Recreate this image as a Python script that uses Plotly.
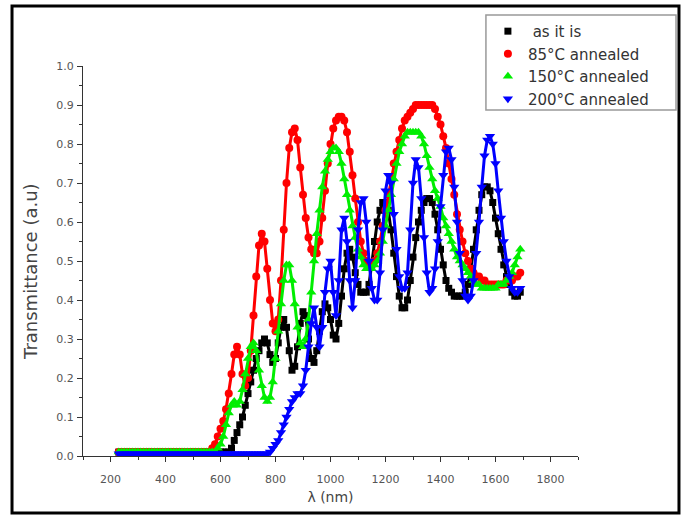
import plotly.graph_objects as go

# Wavelength grid (nm), 230 .. 1690 in 10 nm steps
wavelength_nm = list(range(230, 1700, 10))

series_names = ["\u00a0as it is", "85°C annealed", "150°C annealed", "200°C annealed"]

as_it_is = [
    0.01, 0.01, 0.01, 0.01, 0.01, 0.01, 0.01, 0.01, 0.01, 0.01,
    0.01, 0.01, 0.01, 0.01, 0.01, 0.01, 0.01, 0.01, 0.01, 0.01,
    0.01, 0.01, 0.01, 0.01, 0.01, 0.01, 0.01, 0.01, 0.01, 0.01,
    0.01, 0.01, 0.01, 0.01, 0.01, 0.01, 0.01, 0.01, 0.01, 0.01,
    0.01,
    0.02, 0.04, 0.06, 0.08, 0.10, 0.13, 0.16, 0.19, 0.22, 0.25,
    0.27, 0.29, 0.30, 0.29, 0.26, 0.24, 0.25, 0.29, 0.33, 0.35,
    0.33, 0.27, 0.22, 0.23, 0.28, 0.34, 0.37, 0.36, 0.30, 0.25,
    0.24, 0.27, 0.32, 0.37, 0.39, 0.38, 0.35, 0.31, 0.30, 0.34,
    0.41, 0.48, 0.52, 0.53, 0.51, 0.47, 0.44, 0.42, 0.42, 0.42,
    0.44, 0.49, 0.55, 0.60, 0.63, 0.65, 0.65, 0.63, 0.58, 0.52,
    0.46, 0.41, 0.38, 0.38, 0.40, 0.45, 0.51, 0.56, 0.60, 0.63,
    0.65, 0.66, 0.66, 0.65, 0.62, 0.58, 0.53, 0.49, 0.45, 0.43,
    0.42, 0.41, 0.41, 0.41, 0.41, 0.42, 0.44, 0.48, 0.53, 0.58,
    0.63, 0.67, 0.69, 0.69, 0.68, 0.65, 0.61, 0.57, 0.53, 0.49,
    0.46, 0.44, 0.42, 0.41, 0.41, 0.42,
]

annealed_85 = [
    0.01, 0.01, 0.01, 0.01, 0.01, 0.01, 0.01, 0.01, 0.01, 0.01,
    0.01, 0.01, 0.01, 0.01, 0.01, 0.01, 0.01, 0.01, 0.01, 0.01,
    0.01, 0.01, 0.01, 0.01, 0.01, 0.01, 0.01, 0.01, 0.01, 0.01,
    0.01, 0.01, 0.01, 0.01,
    0.02, 0.03, 0.05, 0.07, 0.09, 0.12, 0.16, 0.21, 0.26, 0.28,
    0.26, 0.21, 0.18, 0.20, 0.27, 0.36, 0.46, 0.54, 0.57, 0.55,
    0.48, 0.40, 0.34, 0.32, 0.35, 0.45, 0.58, 0.70, 0.79, 0.83,
    0.84, 0.81, 0.74, 0.67, 0.61, 0.56, 0.53, 0.52, 0.52, 0.55,
    0.61, 0.68, 0.75, 0.80, 0.84, 0.86, 0.87, 0.87, 0.86, 0.83,
    0.78, 0.72, 0.66, 0.60, 0.55, 0.52, 0.50, 0.49, 0.49, 0.50,
    0.52, 0.55, 0.59, 0.63, 0.67, 0.71, 0.75, 0.78, 0.81, 0.84,
    0.86, 0.87, 0.88, 0.89, 0.90, 0.90, 0.90, 0.90, 0.90, 0.90,
    0.90, 0.89, 0.87, 0.85, 0.82, 0.79, 0.75, 0.71, 0.67, 0.62,
    0.58, 0.55, 0.52, 0.50, 0.48, 0.47, 0.46, 0.46, 0.45, 0.45,
    0.44, 0.44, 0.44, 0.44, 0.44, 0.44, 0.44, 0.45, 0.45, 0.45,
    0.46, 0.46, 0.47,
]

annealed_150 = [
    0.01, 0.01, 0.01, 0.01, 0.01, 0.01, 0.01, 0.01, 0.01, 0.01,
    0.01, 0.01, 0.01, 0.01, 0.01, 0.01, 0.01, 0.01, 0.01, 0.01,
    0.01, 0.01, 0.01, 0.01, 0.01, 0.01, 0.01, 0.01, 0.01, 0.01,
    0.01, 0.01, 0.01, 0.01, 0.01, 0.01,
    0.02, 0.03, 0.05, 0.08, 0.11, 0.13, 0.14, 0.13, 0.14, 0.17,
    0.21, 0.25, 0.28, 0.29, 0.27, 0.22, 0.18, 0.15, 0.14, 0.15,
    0.19, 0.25, 0.32, 0.39, 0.45, 0.49, 0.49, 0.45, 0.39, 0.33,
    0.29, 0.28, 0.30, 0.35, 0.42, 0.50, 0.57, 0.63, 0.69, 0.73,
    0.76, 0.78, 0.79, 0.79, 0.78, 0.75, 0.71, 0.67, 0.63, 0.59,
    0.56, 0.53, 0.51, 0.49, 0.48, 0.48, 0.48, 0.49, 0.50, 0.52,
    0.55, 0.59, 0.63, 0.67, 0.71, 0.75, 0.78, 0.80, 0.82, 0.83,
    0.83, 0.83, 0.83, 0.83, 0.82, 0.80, 0.77, 0.74, 0.71, 0.68,
    0.66, 0.64, 0.61, 0.59, 0.57, 0.55, 0.53, 0.51, 0.50, 0.49,
    0.48, 0.47, 0.46, 0.45, 0.44, 0.44, 0.43, 0.43, 0.43, 0.43,
    0.43, 0.43, 0.44, 0.44, 0.44, 0.45, 0.46, 0.47, 0.49, 0.51,
    0.53,
]

annealed_200 = [
    0.006, 0.006, 0.006, 0.006, 0.006, 0.006, 0.006, 0.006, 0.006, 0.006,
    0.006, 0.006, 0.006, 0.006, 0.006, 0.006, 0.006, 0.006, 0.006, 0.006,
    0.006, 0.006, 0.006, 0.006, 0.006, 0.006, 0.006, 0.006, 0.006, 0.006,
    0.006, 0.006, 0.006, 0.006, 0.006, 0.006, 0.006, 0.006, 0.006, 0.006,
    0.006, 0.006, 0.006, 0.006, 0.006, 0.006, 0.006, 0.006, 0.006, 0.006,
    0.006, 0.006, 0.006, 0.006, 0.006,
    0.01, 0.02, 0.03, 0.04, 0.06, 0.08, 0.10, 0.12, 0.14, 0.15,
    0.16, 0.16, 0.18, 0.22, 0.28, 0.34, 0.38, 0.33, 0.28, 0.33,
    0.42, 0.48, 0.50, 0.42, 0.36, 0.45, 0.58, 0.61, 0.55, 0.45,
    0.38, 0.45, 0.58, 0.65, 0.66, 0.60, 0.50, 0.43, 0.40, 0.40,
    0.47, 0.58, 0.68, 0.72, 0.70, 0.62, 0.53, 0.46, 0.43, 0.43,
    0.47, 0.58, 0.70, 0.76, 0.74, 0.66, 0.56, 0.47, 0.42, 0.43,
    0.48, 0.55, 0.64, 0.72, 0.78, 0.79, 0.76, 0.69, 0.60, 0.52,
    0.45, 0.41, 0.40, 0.41, 0.45, 0.52, 0.60, 0.69, 0.77, 0.81,
    0.82, 0.80, 0.75, 0.68, 0.61, 0.55, 0.50, 0.46, 0.43, 0.42,
    0.42, 0.43,
]

x_ticks = [200, 400, 600, 800, 1000, 1200, 1400, 1600, 1800]
y_ticks = [0.0, 0.1, 0.2, 0.3, 0.4, 0.5, 0.6, 0.7, 0.8, 0.9, 1.0]
y_tick_labels = ["0.0", "0.1", "0.2", "0.3", "0.4", "0.5", "0.6", "0.7", "0.8", "0.9", "1.0"]

series_values = [as_it_is, annealed_85, annealed_150, annealed_200]
colors = ["#000000", "#ff0000", "#00ee00", "#0000ff"]
symbols = ["square", "circle", "triangle-up", "triangle-down"]
sizes = [7, 8, 9, 9]

fig = go.Figure()
for name, vals, c, s, sz in zip(series_names, series_values, colors, symbols, sizes):
    # thin connecting stroke so steep flanks read as continuous bands of symbols
    fig.add_trace(go.Scatter(
        x=wavelength_nm, y=vals, mode="lines", showlegend=False, hoverinfo="skip",
        line=dict(color=c, width=3),
    ))
    fig.add_trace(go.Scatter(
        x=wavelength_nm, y=vals, name=name, mode="markers",
        marker=dict(symbol=s, size=sz, color=c, line=dict(width=0)),
    ))

tick_font = "DejaVu Sans, Liberation Sans, Arial, sans-serif"
axis_common = dict(
    showline=True, linecolor="#333", linewidth=1.2,
    ticks="outside", ticklen=5, tickwidth=1, tickcolor="#333",
    showgrid=False, zeroline=False,
    tickfont=dict(family=tick_font, size=11, color="#555"),
    mirror=False,
)
fig.update_xaxes(
    range=[100, 1900], tickvals=x_ticks,
    ticklabelstandoff=8,
    minor=dict(ticks="outside", ticklen=3, tickcolor="#333", dtick=100, tick0=100),
    title=dict(text="λ (nm)", font=dict(family=tick_font, size=14, color="#444"), standoff=6),
    **axis_common,
)
fig.update_yaxes(
    range=[0, 1.0], tickvals=y_ticks, ticktext=y_tick_labels,
    ticklabelstandoff=1,
    minor=dict(ticks="outside", ticklen=3, tickcolor="#333", dtick=0.05, tick0=0),
    **axis_common,
)

# y axis title
fig.add_annotation(text="Transmittance (a.u)", textangle=-90, showarrow=False,
                   xref="paper", yref="paper", x=-0.105, y=0.472,
                   xanchor="center", yanchor="middle",
                   font=dict(family=tick_font, size=18, color="#444"))

# outer black frame of the figure
fig.add_shape(type="rect", xref="paper", yref="paper",
              x0=-0.1434, x1=1.204, y0=-0.146, y1=1.154,
              line=dict(color="#000", width=3), fillcolor="rgba(0,0,0,0)", layer="above")
# legend box
fig.add_shape(type="rect", xref="paper", yref="paper",
              x0=0.814, x1=1.198, y0=0.887, y1=1.131,
              line=dict(color="#999", width=1.5), fillcolor="white", layer="above")

fig.update_layout(
    width=684, height=515,
    margin=dict(l=83, r=106, t=66, b=59),
    paper_bgcolor="white", plot_bgcolor="white",
    showlegend=True,
    legend=dict(
        x=0.818, y=1.131, xanchor="left", yanchor="top",
        bgcolor="rgba(0,0,0,0)", borderwidth=0,
        font=dict(family=tick_font, size=15, color="#333"),
        tracegroupgap=0,
    ),
)

fig.write_html("out.html", config={"displayModeBar": False},
               post_script="document.body.style.margin='0px';")
